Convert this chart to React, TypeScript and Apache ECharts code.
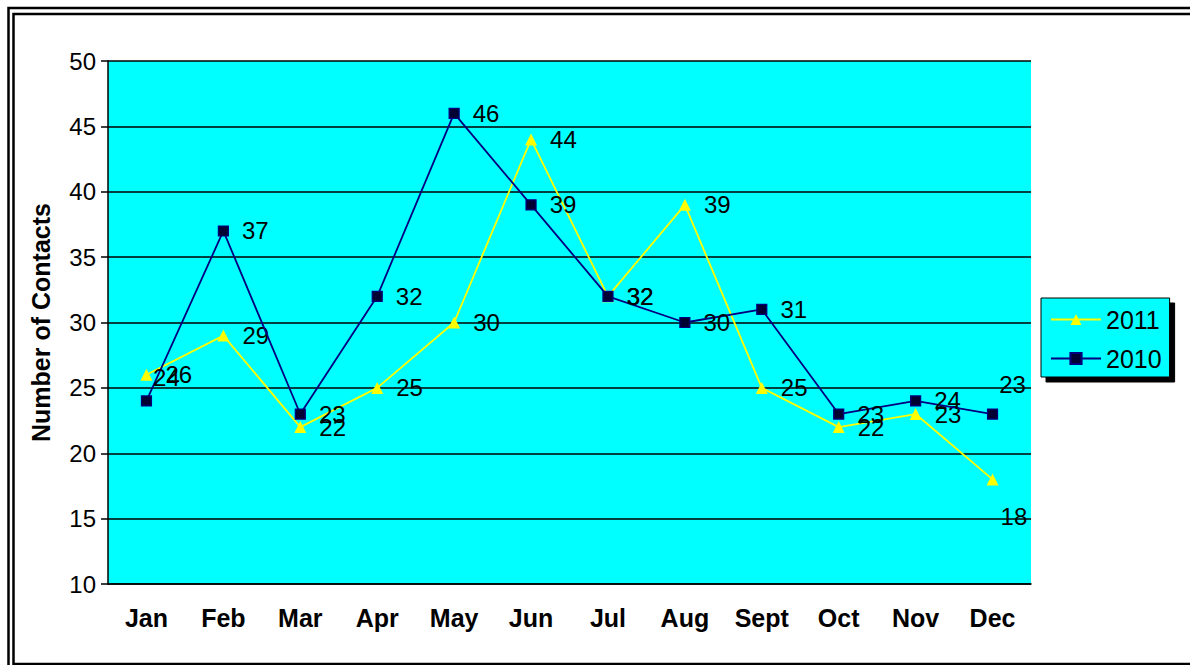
import React, { useEffect, useRef } from "react";
import * as echarts from "echarts";

const months = ["Jan", "Feb", "Mar", "Apr", "May", "Jun", "Jul", "Aug", "Sept", "Oct", "Nov", "Dec"];
const values2011 = [26, 29, 22, 25, 30, 44, 32, 39, 25, 22, 23, 18];
const values2010 = [24, 37, 23, 32, 46, 39, 32, 30, 31, 23, 24, 23];
const yTicks = { min: 10, max: 50, interval: 5 };

const FONT = "'Liberation Sans', Arial, sans-serif";

export default function App() {
  const ref = useRef<HTMLDivElement>(null);
  useEffect(() => {
    if (!ref.current) return;
    const chart = echarts.init(ref.current, null, { renderer: "svg" });
    const off2011: Record<number, number[]> = { 11: [-11, 37] };
    const off2010: Record<number, number[]> = { 0: [-12, -23], 11: [-12, -30] };
    const mk = (vals: number[], offs: Record<number, number[]>) =>
      vals.map((v, i) => (offs[i] ? { value: v, label: { offset: offs[i] } } : v));
    const labelCommon = {
      show: true,
      position: "right" as const,
      distance: 13,
      color: "#000",
      fontSize: 24,
      fontFamily: FONT,
    };
    chart.setOption({
      animation: false,
      backgroundColor: "#fff",
      textStyle: { fontFamily: FONT },
      grid: {
        left: 108,
        top: 61,
        right: 159,
        bottom: 81,
        show: true,
        backgroundColor: "#00FFFF",
        borderWidth: 0,
      },
      legend: {
        orient: "vertical",
        left: 1041,
        top: 298,
        data: ["2011", "2010"],
        itemWidth: 50,
        itemHeight: 14,
        itemGap: 14,
        padding: [9, 8, 6, 9],
        backgroundColor: "#00FFFF",
        borderColor: "#000",
        borderWidth: 1,
        borderRadius: 0,
        shadowColor: "#000",
        shadowBlur: 0,
        shadowOffsetX: 5,
        shadowOffsetY: 5,
        textStyle: { color: "#000", fontSize: 25, fontFamily: FONT, lineHeight: 25 },
      },
      xAxis: {
        type: "category",
        data: months,
        boundaryGap: true,
        axisLine: { show: true, lineStyle: { color: "#000", width: 1.5 } },
        axisTick: { show: false },
        axisLabel: {
          color: "#000",
          fontSize: 25,
          fontWeight: "bold",
          fontFamily: FONT,
          margin: 21,
          interval: 0,
        },
        splitLine: { show: false },
      },
      yAxis: {
        type: "value",
        min: yTicks.min,
        max: yTicks.max,
        interval: yTicks.interval,
        name: "Number of Contacts",
        nameLocation: "middle",
        nameGap: 55,
        nameTextStyle: { color: "#000", fontSize: 25, fontWeight: "bold", fontFamily: FONT },
        axisLine: { show: true, lineStyle: { color: "#000", width: 1.5 } },
        axisTick: { show: true, inside: false, length: 7, lineStyle: { color: "#000", width: 1.5 } },
        axisLabel: { color: "#000", fontSize: 24, fontFamily: FONT, margin: 12 },
        splitLine: { show: true, lineStyle: { color: "#000", width: 1.5 } },
      },
      graphic: [
        {
          type: "rect",
          z: 100,
          silent: true,
          shape: { x: 8.5, y: 8, width: 1300, height: 800 },
          style: { fill: "none", stroke: "#000", lineWidth: 2.5 },
        },
        {
          type: "rect",
          z: 100,
          silent: true,
          shape: { x: 13.5, y: 14, width: 1300, height: 650 },
          style: { fill: "none", stroke: "#000", lineWidth: 2.5 },
        },
      ],
      series: [
        {
          name: "2011",
          type: "line",
          data: mk(values2011, off2011),
          symbol: "triangle",
          symbolSize: 12,
          color: "#FFFF00",
          lineStyle: { color: "#FFFF00", width: 1.8 },
          itemStyle: { color: "#FFFF00" },
          label: labelCommon,
          z: 2,
        },
        {
          name: "2010",
          type: "line",
          data: mk(values2010, off2010),
          symbol: "rect",
          symbolSize: 10,
          color: "#000080",
          lineStyle: { color: "#000080", width: 1.8 },
          itemStyle: { color: "#000033", borderColor: "#000080", borderWidth: 1.2 },
          label: labelCommon,
          z: 3,
        },
      ],
    });
    return () => chart.dispose();
  }, []);
  return (
    <div
      ref={ref}
      style={{ position: "fixed", left: 0, top: 0, width: 1190, height: 665 }}
    />
  );
}
